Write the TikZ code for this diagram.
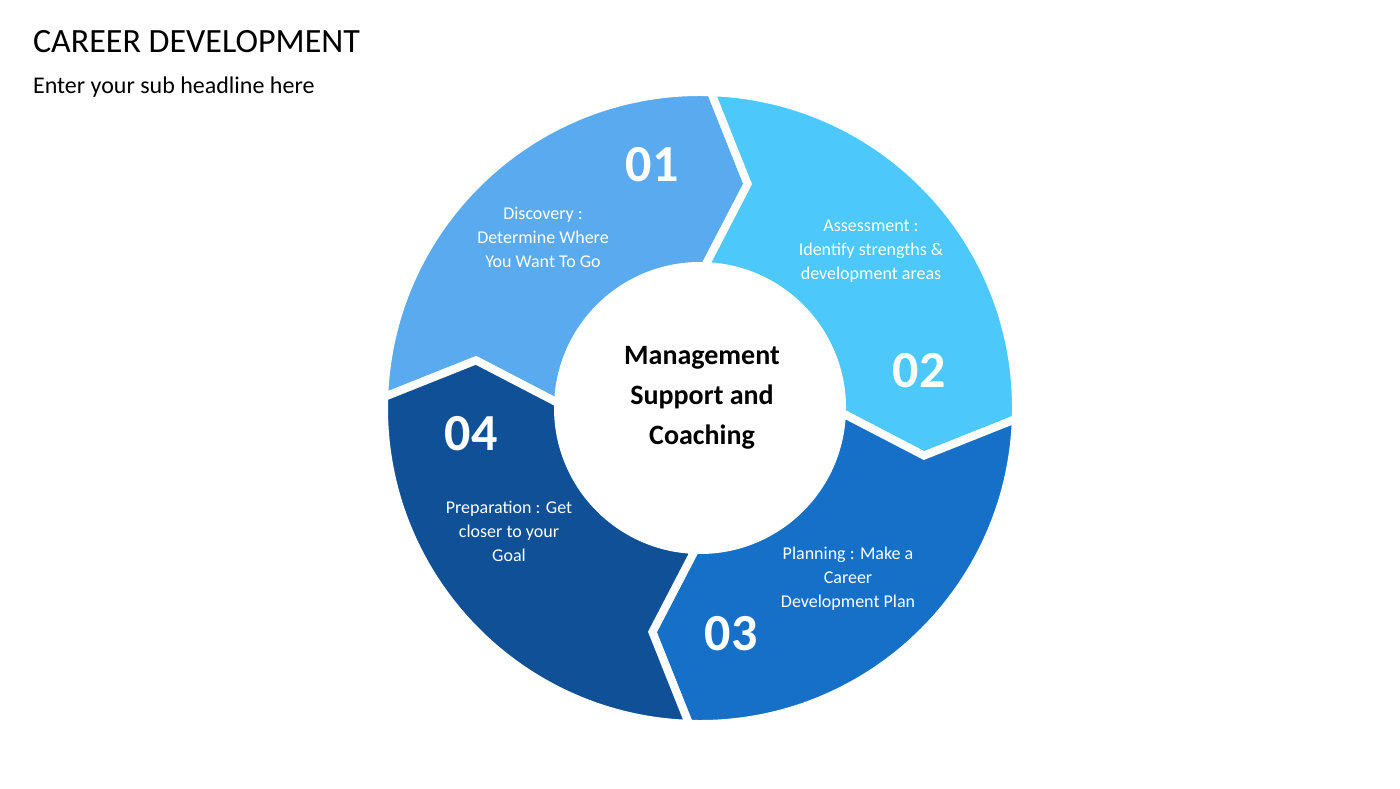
\documentclass[tikz,border=0pt]{standalone}
\usepackage{fontspec}
\setmainfont{Carlito}
\definecolor{cA}{HTML}{5AAAF0}
\definecolor{cB}{HTML}{4DC8FA}
\definecolor{cC}{HTML}{1670C8}
\definecolor{cD}{HTML}{0F5096}
\newcommand{\segm}[3]{\filldraw[fill=#3,draw=white,line width=4pt,line join=miter] (#1:316) arc[start angle=#1,end angle=#2,radius=316] -- ({#2-10}:229) -- (#2:142) arc[start angle=#2,end angle=#1,radius=142] -- ({#1-10}:229) -- cycle;}
\begin{document}
\begin{tikzpicture}[x=0.5pt,y=0.5pt,
  num/.style={white,font=\fontsize{26}{30}\selectfont\bfseries},
  txt/.style={white,align=center,font=\fontsize{9}{12}\selectfont}]
\useasboundingbox[fill=white] (0,0) rectangle (1400,788);
\node[anchor=west,font=\fontsize{17}{20}\selectfont] (title) at (26,746) {CAREER DEVELOPMENT};
\node[anchor=west,font=\fontsize{12}{14}\selectfont] (sub) at (26,701) {Enter your sub headline here};
\begin{scope}[shift={(700,380)}]
\segm{178}{88}{cA}
\segm{88}{-2}{cB}
\segm{-2}{-92}{cC}
\segm{268}{178}{cD}
\end{scope}
\node[num] (n1) at (652,623) {01};
\node[txt] (t1) at (543,551) {Discovery :\\Determine Where\\You Want To Go};
\node[num] (n2) at (919,417) {02};
\node[txt] (t2) at (871,537) {Assessment :\\Identify strengths \&\\development areas};
\node[num] (n3) at (731,154) {03};
\node[txt] (t3) at (848,209) {Planning : Make a\\Career\\Development Plan};
\node[num] (n4) at (471,354) {04};
\node[txt] (t4) at (509,257) {Preparation : Get\\closer to your\\Goal};
\node[align=center,font=\fontsize{14}{20}\selectfont\bfseries] (c) at (702,390) {Management\\Support and\\Coaching};
\end{tikzpicture}
\end{document}
